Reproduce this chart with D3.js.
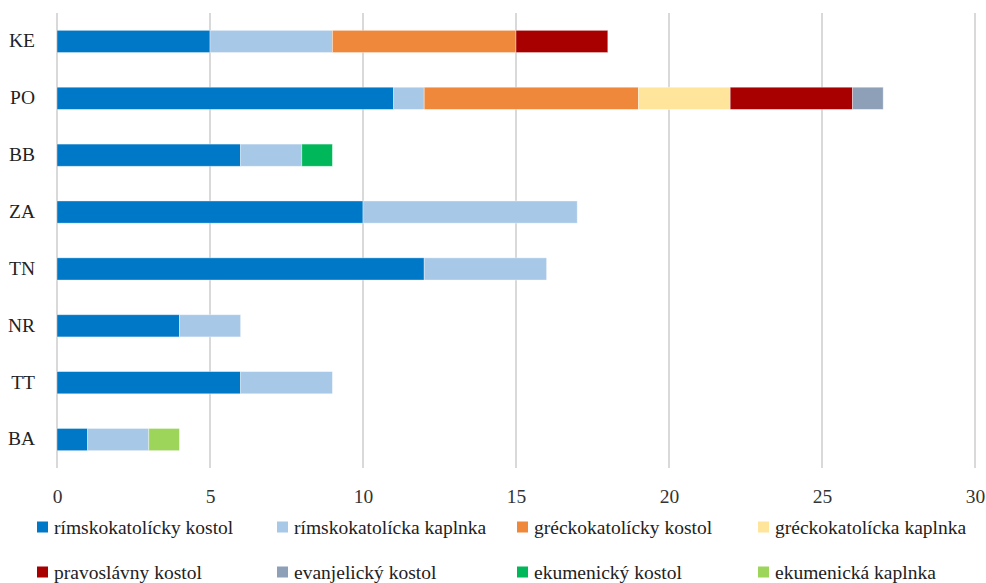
<!DOCTYPE html>
<html><head><meta charset="utf-8">
<script src="https://cdn.jsdelivr.net/npm/d3@7"></script>
<style>body{margin:0;background:#fff}svg{display:block}</style>
</head><body>
<svg id="c" width="986" height="583"></svg>
<script>
const categories = ["KE","PO","BB","ZA","TN","NR","TT","BA"];
const seriesNames = ["rímskokatolícky kostol","rímskokatolícka kaplnka","gréckokatolícky kostol","gréckokatolícka kaplnka","pravoslávny kostol","evanjelický kostol","ekumenický kostol","ekumenická kaplnka"];
const rimKostol   = [5,11,6,10,12,4,6,1];
const rimKaplnka  = [4,1,2,7,4,2,3,2];
const grKostol    = [6,7,0,0,0,0,0,0];
const grKaplnka   = [0,3,0,0,0,0,0,0];
const pravKostol  = [3,4,0,0,0,0,0,0];
const evKostol    = [0,1,0,0,0,0,0,0];
const ekKostol    = [0,0,1,0,0,0,0,0];
const ekKaplnka   = [0,0,0,0,0,0,0,1];
const xTicks = [0,5,10,15,20,25,30];
const colors = ["#0078C8","#A8C8E8","#F0883C","#FFE59C","#A80000","#8EA0B8","#00B85A","#9CD55A"];

const seriesVals = [rimKostol,rimKaplnka,grKostol,grKaplnka,pravKostol,evKostol,ekKostol,ekKaplnka];
const rows = categories.map((c,i)=>{const o={cat:c};seriesNames.forEach((s,j)=>o[s]=seriesVals[j][i]);return o;});
const stack = d3.stack().keys(seriesNames)(rows);

const svg = d3.select("#c");
const font = "'Liberation Serif', serif";
const fs = 19.5;
const x = d3.scaleLinear().domain([0,30]).range([57,975]);
const y = d3.scaleBand().domain(categories).range([13,468]).paddingInner(0.61).paddingOuter(0.305);

svg.append("g").selectAll("line").data(xTicks).join("line")
  .attr("x1",d=>x(d)).attr("x2",d=>x(d)).attr("y1",13).attr("y2",468)
  .attr("stroke","#d9d9d9").attr("stroke-width",2);

svg.append("g").selectAll("g").data(stack).join("g")
  .attr("fill",(d,i)=>colors[i])
  .selectAll("rect").data(d=>d.filter(v=>v[1]>v[0])).join("rect")
  .attr("x",d=>x(d[0])).attr("width",d=>x(d[1])-x(d[0]))
  .attr("y",d=>y(d.data.cat)).attr("height",y.bandwidth())
  .attr("stroke","#ffffff").attr("stroke-opacity",0.45).attr("stroke-width",0.8);

const xAxis = d3.axisBottom(x).tickValues(xTicks).tickSize(0).tickPadding(0);
const gx = svg.append("g").attr("transform","translate(0,503)").call(xAxis);
gx.select(".domain").remove();
gx.selectAll("text").attr("font-family",font).attr("font-size",fs).attr("fill","#333").attr("y",0).attr("dy",0);

const yAxis = d3.axisLeft(y).tickSize(0).tickPadding(0);
const gy = svg.append("g").attr("transform","translate(35,0)").call(yAxis);
gy.select(".domain").remove();
gy.selectAll("text").attr("font-family",font).attr("font-size",fs).attr("fill","#222").attr("dy","0.3em");

const legX = [37,277,517,758], legY = [527,572];
const lg = svg.append("g").selectAll("g").data(seriesNames).join("g")
  .attr("transform",(d,i)=>`translate(${legX[i%4]},${legY[Math.floor(i/4)]})`);
lg.append("rect").attr("x",0).attr("y",-5.5).attr("width",11).attr("height",11).attr("fill",(d,i)=>colors[i]);
lg.append("text").attr("x",17).attr("y",0).attr("dy","0.36em").text(d=>d)
  .attr("font-family",font).attr("font-size",fs).attr("fill","#222");
</script>
</body></html>
